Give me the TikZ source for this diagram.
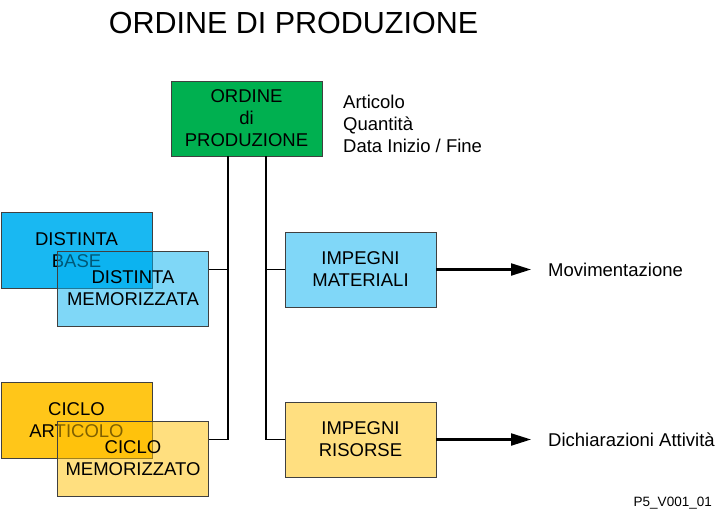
\documentclass[tikz,border=0pt]{standalone}
\usepackage{fontspec}
\setmainfont{Liberation Sans}
\usepackage{tikz}
\usetikzlibrary{arrows.meta,positioning,calc}
\definecolor{ordgreen}{HTML}{00B050}
\definecolor{sky}{HTML}{00B0F0}
\definecolor{amber}{HTML}{FFC000}
\definecolor{edge}{HTML}{404040}

\begin{document}
\begin{tikzpicture}[x=1pt,y=-1pt,
  box/.style={draw=edge,line width=.8pt,minimum width=151pt,minimum height=75pt,
    inner sep=0pt,align=center,font=\fontsize{18.5}{22}\selectfont},
  lbl/.style={inner sep=0pt,align=left,font=\fontsize{18.5}{22}\selectfont},
  wire/.style={black,line width=1.3pt},
  flow/.style={black,line width=2.2pt,-{Triangle[length=20pt,width=12pt]}}]
\useasboundingbox (0,0) rectangle (716,512);
% title
\node[inner sep=0pt,font=\fontsize{30.5}{34}\selectfont] (title) at (293.5,23) {ORDINE DI PRODUZIONE};
% order
\node[box,fill=ordgreen] (ordine) at (246.5,118.5) {ORDINE\\di\\PRODUZIONE};
\node[lbl,anchor=west] (attrib) at (343,124) {Articolo\\Quantità\\Data Inizio / Fine};
% commitments
\node[box,fill=sky!50] (impmat) at (360.5,269.5) {IMPEGNI\\MATERIALI};
\node[box,fill=amber!50] (imprs) at (360.5,439.5) {IMPEGNI\\RISORSE};
% bill of materials and cycle, base and stored copy
\node[box,fill=sky!90,minimum height=76pt] (dbase) at (76.5,250) {DISTINTA\\BASE};
\node[box,fill=sky,fill opacity=.5,text opacity=1] (dmem) at (133,288.5) {DISTINTA\\MEMORIZZATA};
\node[box,fill=amber!90,minimum height=76pt] (cart) at (76.5,420) {CICLO\\ARTICOLO};
\node[box,fill=amber,fill opacity=.5,text opacity=1] (cmem) at (133,458.5) {CICLO\\MEMORIZZATO};
% trunks
\coordinate (spL) at (228,0);
\coordinate (spR) at (266,0);
\draw[wire] (ordine.south -| spL) |- (cmem.east |- imprs.west);
\draw[wire] (dmem.east |- impmat.west) -- (spL |- impmat.west);
\draw[wire] (ordine.south -| spR) |- (imprs.west);
\draw[wire] (spR |- impmat.west) -- (impmat.west);
% outputs
\coordinate (tipM) at (531,269.5);
\coordinate (tipR) at (531,439.5);
\draw[flow] (impmat.east) -- (tipM);
\draw[flow] (imprs.east) -- (tipR);
\node[lbl,anchor=west] (movim) at (548,269.5) {Movimentazione};
\node[lbl,anchor=west] (dichiar) at (548,439.5) {Dichiarazioni Attività};
\node[inner sep=0pt,anchor=east,font=\fontsize{13.5}{16}\selectfont] (code) at (712,503) {P5\_V001\_01};
\end{tikzpicture}
\end{document}
